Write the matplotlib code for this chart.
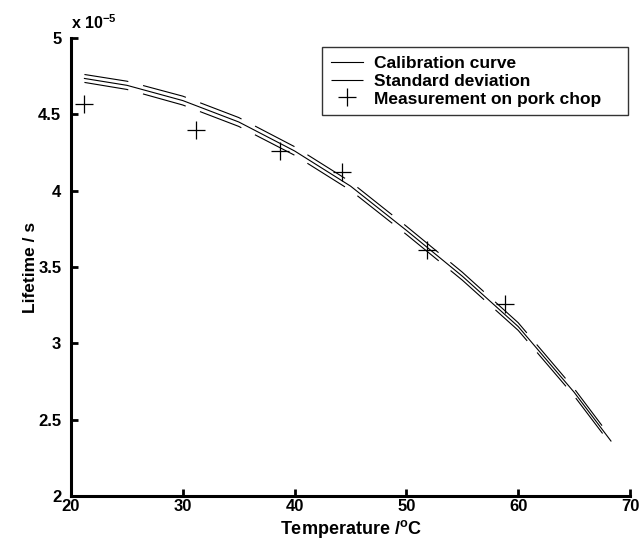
import numpy as np
import matplotlib
matplotlib.use('Agg')
import matplotlib.pyplot as plt
from matplotlib.ticker import FuncFormatter

# Data (lifetime in units of 1e-5 s)
temp_curve = [21.2, 25, 30, 35, 40, 45, 50, 55, 60, 65, 68.3]
life_curve = [4.735, 4.69, 4.59, 4.45, 4.26, 4.03, 3.74, 3.44, 3.11, 2.68, 2.36]
std_curve = [0.026, 0.027, 0.029, 0.029, 0.028, 0.028, 0.027, 0.026, 0.025, 0.024, 0.023]

temp_meas = [21.2, 31.2, 38.7, 44.2, 51.8, 58.8]
life_meas = [4.57, 4.40, 4.26, 4.12, 3.61, 3.26]

plt.rcParams['font.family'] = ['Liberation Sans', 'DejaVu Sans']
plt.rcParams['font.weight'] = 'bold'
plt.rcParams['mathtext.fontset'] = 'custom'
plt.rcParams['mathtext.rm'] = 'Liberation Sans:bold'
plt.rcParams['lines.scale_dashes'] = False

fig = plt.figure(figsize=(6.41, 5.42), dpi=100)
ax = fig.add_axes([0.1108, 0.0849, 0.872, 0.845])

life_curve = np.array(life_curve)
std_curve = np.array(std_curve)

# calibration curve and +/- standard deviation
ax.plot(temp_curve, life_curve, color='black', lw=0.8, label='Calibration curve')
ax.plot(temp_curve, life_curve + std_curve, color='black', lw=0.8, dashes=(32, 11),
        label='Standard deviation')
ax.plot(temp_curve, life_curve - std_curve, color='black', lw=0.8, dashes=(32, 11))

# measurements
ax.plot(temp_meas, life_meas, linestyle='none', marker='+', markersize=13,
        markeredgewidth=0.9, color='black', label='Measurement on pork chop')

ax.set_xlim(20, 70)
ax.set_ylim(2, 5)
ax.set_xticks([20, 30, 40, 50, 60, 70])
ax.set_yticks([2, 2.5, 3, 3.5, 4, 4.5, 5])
ax.yaxis.set_major_formatter(FuncFormatter(lambda v, p: '%g' % v))

for side in ['top', 'right']:
    ax.spines[side].set_visible(False)
for side in ['left', 'bottom']:
    ax.spines[side].set_linewidth(2.2)
ax.tick_params(direction='in', length=5, width=2, labelsize=12)
ax.tick_params(axis='x', pad=2)
ax.tick_params(axis='y', pad=7)
for lab in ax.get_xticklabels() + ax.get_yticklabels():
    lab.set_fontweight('bold')

ax.set_xlabel(r'Temperature /$^{\mathrm{o}}$C', fontsize=13, fontweight='bold', labelpad=3)
ax.set_ylabel('Lifetime / s', fontsize=12.5, fontweight='bold', labelpad=0)
ax.text(0.0, 1.012, r'x 10$^{\mathrm{-5}}$', transform=ax.transAxes, fontsize=11.5,
        fontweight='bold', ha='left', va='bottom')

leg = ax.legend(loc='upper left', bbox_to_anchor=(0.449, 0.825, 0.547, 0.155),
                mode='expand', fontsize=12.5, frameon=True, fancybox=False,
                handlelength=1.85, borderpad=0.5, labelspacing=0.15,
                handletextpad=0.65, borderaxespad=0)
leg.get_frame().set_edgecolor('black')
leg.get_frame().set_linewidth(1.0)
for t in leg.get_texts():
    t.set_fontweight('bold')

fig.savefig('out.png', dpi=100)
